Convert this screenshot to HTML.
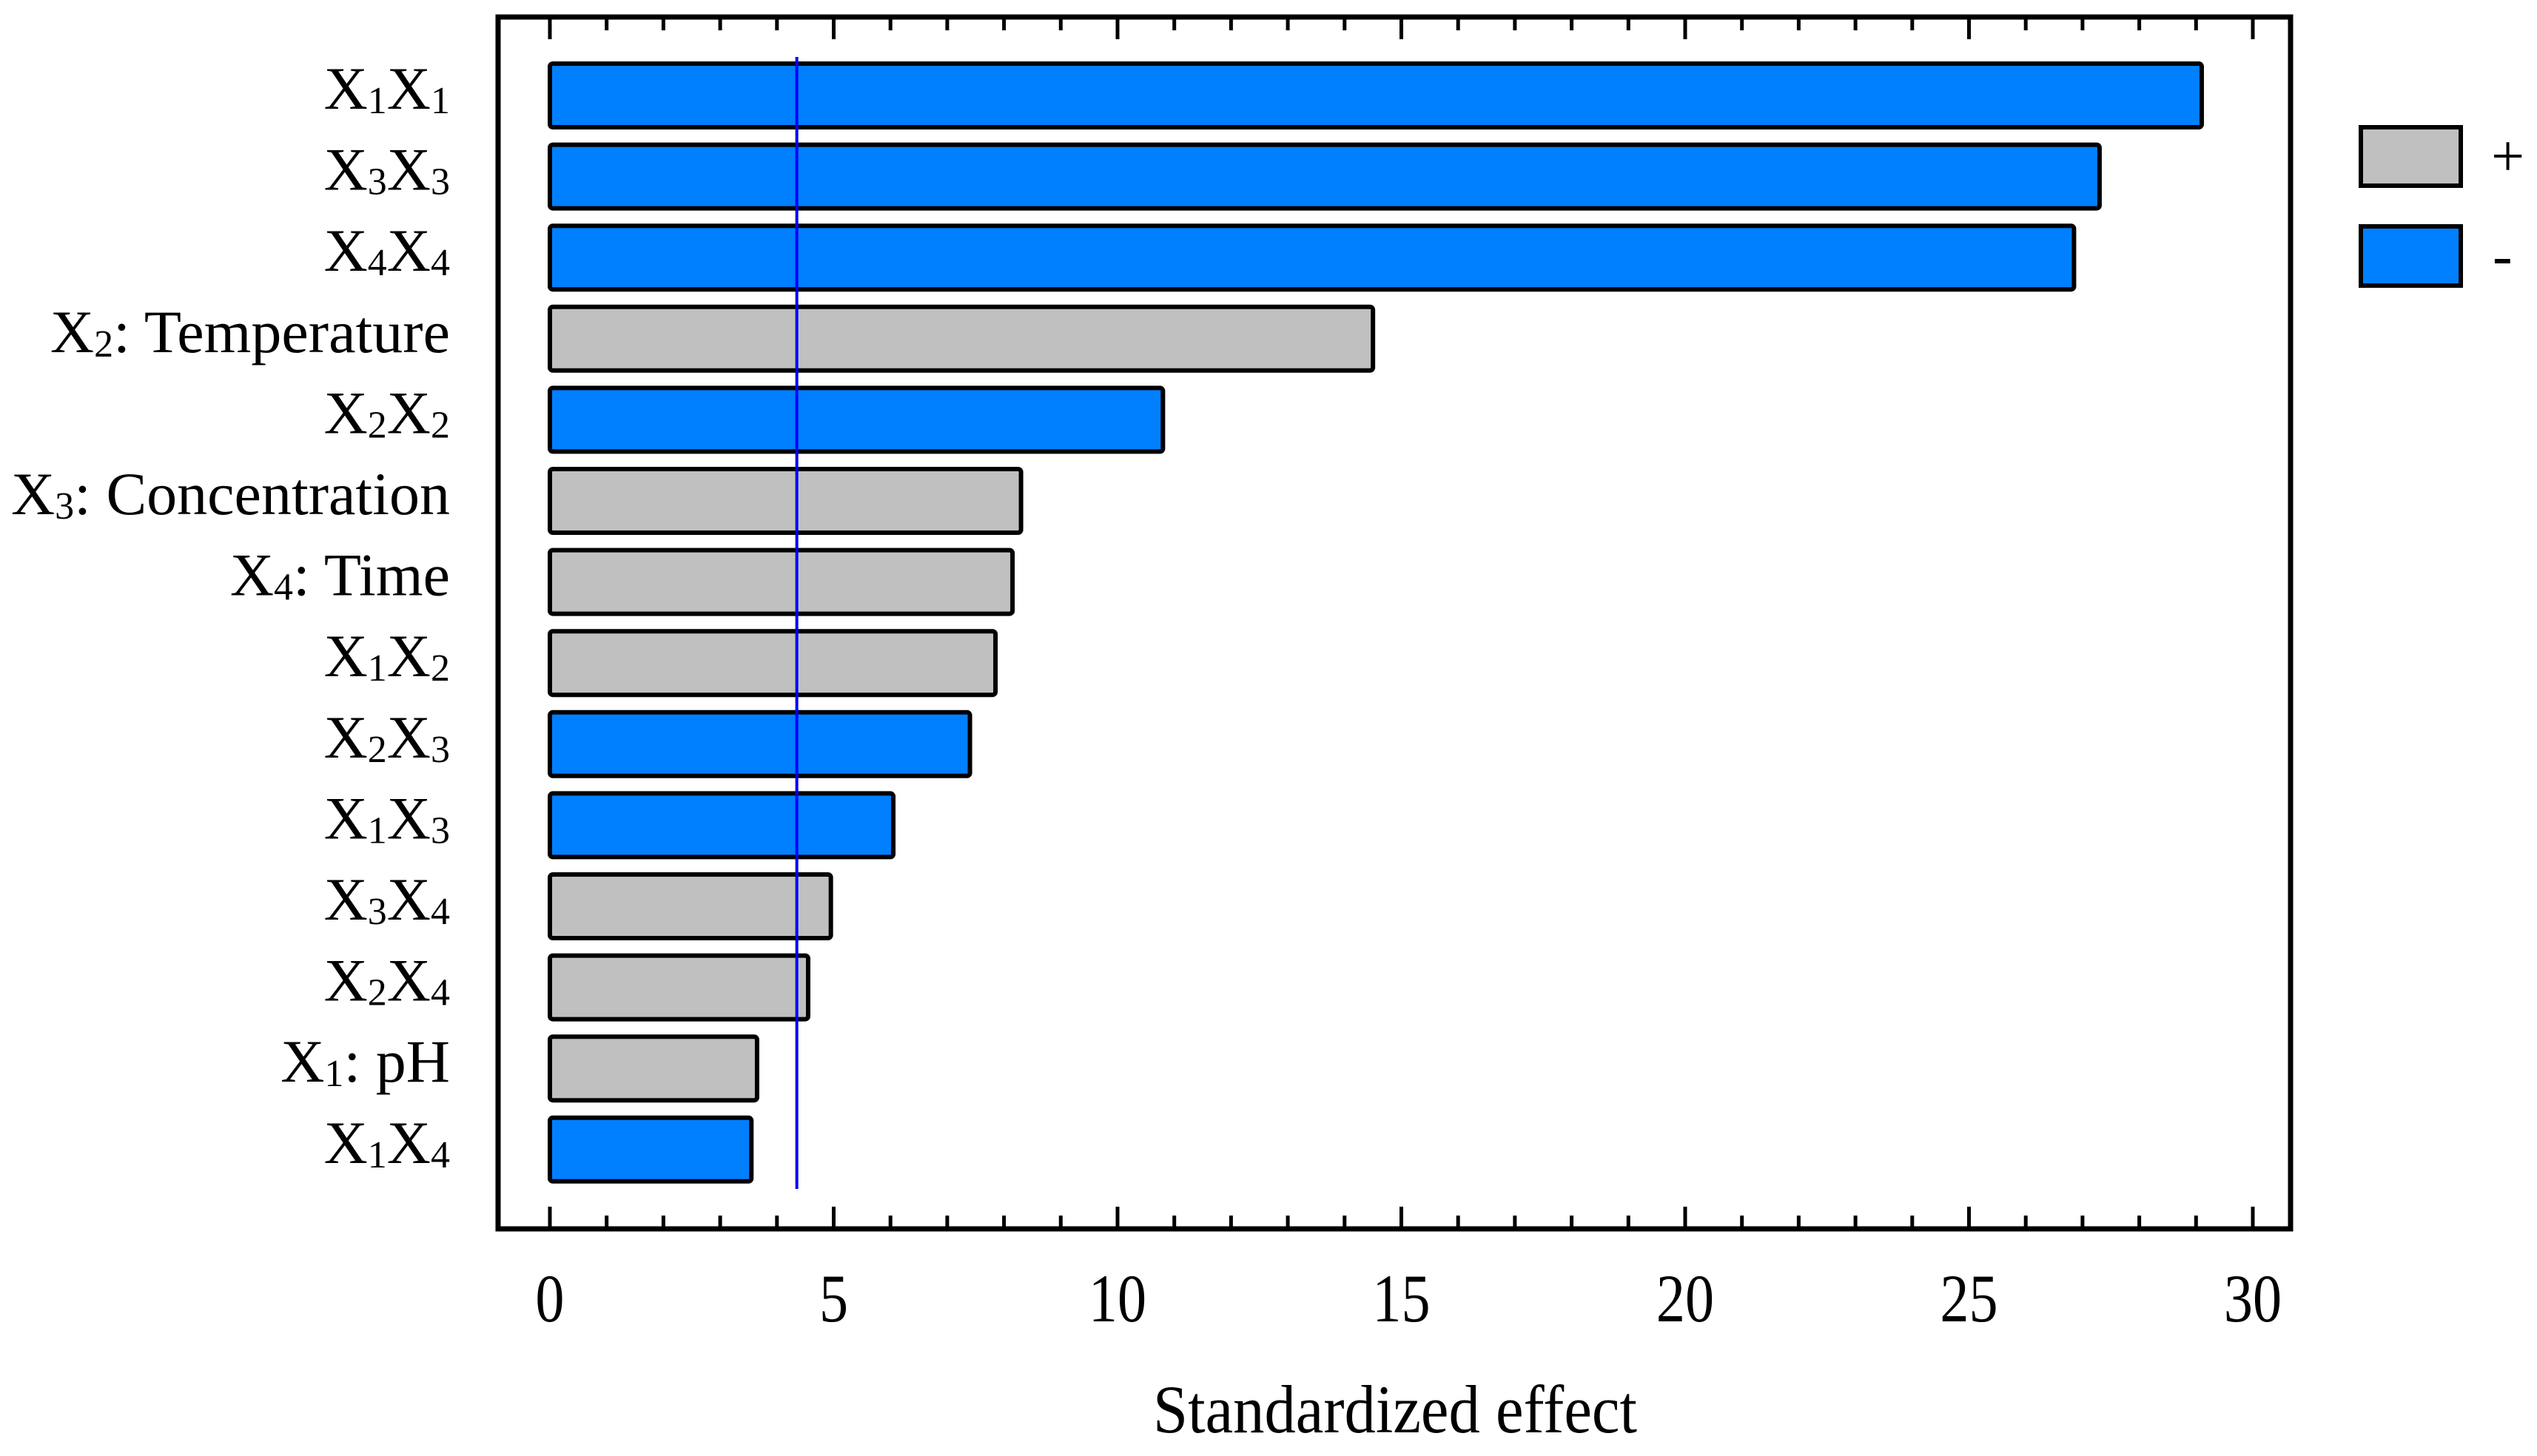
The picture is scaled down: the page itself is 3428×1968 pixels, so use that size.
<!DOCTYPE html>
<html><head><meta charset="utf-8"><style>
html,body{margin:0;padding:0;background:#fff;}
svg{display:block;}
text{font-family:"Liberation Serif","Times New Roman",serif;fill:#000;}
</style></head><body>
<svg id="chart" width="3428" height="1968" viewBox="0 0 3428 1968" xmlns="http://www.w3.org/2000/svg">
<g id="plot"></g>
</svg>
<script>
const categories = [
  [["X","1"],["X","1"]],
  [["X","3"],["X","3"]],
  [["X","4"],["X","4"]],
  [["X","2"],[": Temperature",""]],
  [["X","2"],["X","2"]],
  [["X","3"],[": Concentration",""]],
  [["X","4"],[": Time",""]],
  [["X","1"],["X","2"]],
  [["X","2"],["X","3"]],
  [["X","1"],["X","3"]],
  [["X","3"],["X","4"]],
  [["X","2"],["X","4"]],
  [["X","1"],[": pH",""]],
  [["X","1"],["X","4"]]
];
const effects = [29.1, 27.3, 26.85, 14.5, 10.8, 8.3, 8.15, 7.85, 7.4, 6.05, 4.95, 4.55, 3.65, 3.55];
const signs = ["-","-","-","+","-","+","+","+","-","-","+","+","+","-"];
const xTicks = [0,5,10,15,20,25,30];
const criticalValue = 4.35;

const NS = "http://www.w3.org/2000/svg";
const g = document.getElementById('plot');
const X0 = 743, PX = 76.7;
function xs(v){ return X0 + v*PX; }
const Y0 = 129, PITCH = 109.6, BH = 86;
function ys(i){ return Y0 + i*PITCH; }
function mk(tag, attrs){ const e=document.createElementNS(NS,tag); for(const k in attrs) e.setAttribute(k,attrs[k]); g.appendChild(e); return e; }

const frame = mk('rect',{x:673,y:23,width:2422,height:1638,fill:'none',stroke:'#000','stroke-width':7});



for(let v=0; v<=30; v++){
  const len = (v%5===0)?30:18;
  const t1 = mk('line',{x1:xs(v),x2:xs(v),y1:23,y2:23+len,stroke:'#000','stroke-width':5});
  
  
  const t2 = mk('line',{x1:xs(v),x2:xs(v),y1:1661,y2:1661-len,stroke:'#000','stroke-width':5});
  
  
}
xTicks.forEach(v=>{
  const t = mk('text',{x:xs(v),y:1786,'font-size':92,'text-anchor':'middle',transform:'translate('+xs(v)+',0) scale(0.85,1) translate('+(-xs(v))+',0)'});
  t.textContent = String(v);
  
  
});

effects.forEach((v,i)=>{
  const r = mk('rect',{x:xs(0),y:ys(i)-BH/2,width:xs(v)-xs(0),height:BH,rx:4,
    fill: signs[i]==='+'?'#c0c0c0':'#0080ff', stroke:'#000','stroke-width':6});
  
  
  const t = mk('text',{x:608,y:ys(i)+18,'font-size':82,'text-anchor':'end'});
  
  
  categories[i].forEach(p=>{
    const a=document.createElementNS(NS,'tspan'); a.textContent=p[0]; t.appendChild(a);
    if(p[1]){ const s=document.createElementNS(NS,'tspan'); s.setAttribute('font-size',52); s.setAttribute('baseline-shift','-6'); s.textContent=p[1]; t.appendChild(s); }
  });
});

const cl = mk('line',{x1:xs(criticalValue),x2:xs(criticalValue),y1:77,y2:1607,stroke:'#0000ff','stroke-width':4});



const at = mk('text',{x:1885,y:1936,'font-size':92,'text-anchor':'middle',textLength:654,lengthAdjust:'spacingAndGlyphs'});
at.textContent='Standardized effect';



const l1 = mk('rect',{x:3190,y:172,width:135,height:79,fill:'#c0c0c0',stroke:'#000','stroke-width':6});


const l2 = mk('rect',{x:3190,y:306,width:135,height:80,fill:'#0080ff',stroke:'#000','stroke-width':6});


const lt1 = mk('text',{x:3366,y:238,'font-size':80});
lt1.textContent='+';


const lt2 = mk('text',{x:3368,y:372,'font-size':80});
lt2.textContent='-';


</script>
</body></html>
